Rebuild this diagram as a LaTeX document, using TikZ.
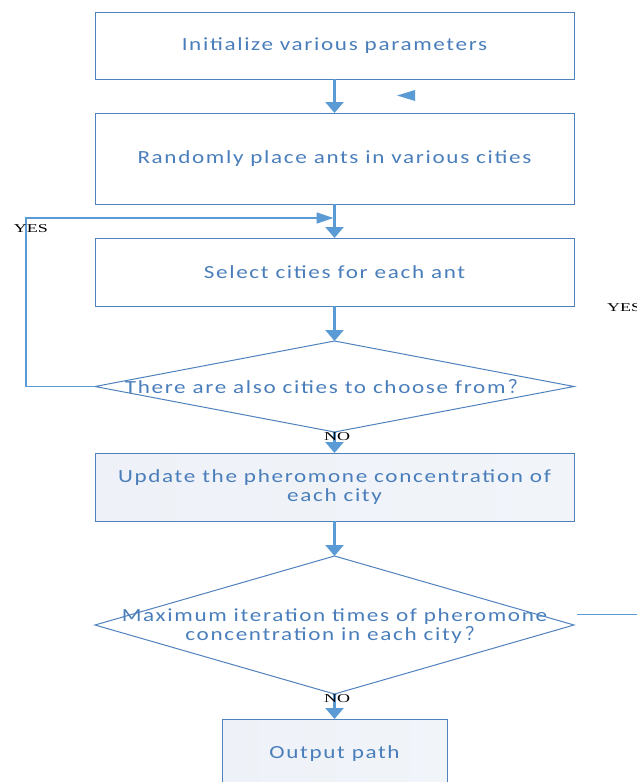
\documentclass[tikz,border=0pt]{standalone}
\usepackage{fontspec}
\usetikzlibrary{arrows.meta,shapes.geometric,calc}
\newfontfamily\boxfont[FakeStretch=1.25,LetterSpace=9]{Carlito}
\newfontfamily\ynfont[FakeStretch=1.5]{Liberation Serif}
\newfontfamily\cjkfont{Noto Sans CJK SC}
\definecolor{arrowblue}{HTML}{5B9BD5}
\definecolor{edgeblue}{HTML}{4F81BD}
\definecolor{textblue}{HTML}{4A7EBB}
\definecolor{paleleft}{HTML}{EEF1F7}
\definecolor{paleright}{HTML}{F1F5FA}
\begin{document}
\begin{tikzpicture}[x=1pt,y=-1pt,
  procbox/.style={draw=edgeblue,line width=1pt,minimum width=479pt,inner sep=0pt,outer sep=0pt,
    text=textblue,font=\boxfont\fontsize{18.5}{20}\selectfont,align=center},
  fillbox/.style={procbox,left color=paleleft,middle color=white,right color=paleright},
  decision/.style={diamond,draw=edgeblue,line width=1pt,aspect=1,minimum width=479pt,inner sep=0pt,outer sep=0pt},
  dtext/.style={text=textblue,font=\boxfont\fontsize{18.5}{20}\selectfont,align=center,inner sep=0pt},
  flow/.style={draw=arrowblue,line width=2.5pt,-{Triangle[width=18pt,length=11pt]}},
  loopflow/.style={draw=arrowblue,line width=1.6pt,-{Triangle[width=11pt,length=17pt]}},
  yn/.style={font=\ynfont\fontsize{12}{12}\selectfont,inner sep=0pt,text=black}]
\useasboundingbox (0,0) rectangle (637,782);

\node[procbox,minimum height=67pt] (b1) at (334.5,45.5) {Initialize various parameters};
\node[procbox,minimum height=91pt] (b2) at (334.5,158.5) {Randomly place ants in various cities};
\node[procbox,minimum height=68pt] (b3) at (334.5,272) {Select cities for each ant};
\node[decision,minimum height=91pt] (d1) at (334.5,386.5) {};
\node[dtext] (d1t) at (326,387) {There are also cities to choose from\,{\cjkfont ？}};
\node[fillbox,minimum height=68pt] (b4) at (334.5,487) {Update the pheromone concentration of\\[-1pt]each city};
\node[decision,minimum height=138pt] (d2) at (334.5,625) {};
\node[dtext] (d2t) at (334.5,626) {Maximum iteration times of pheromone\\[-1pt]concentration in each city\,{\cjkfont ？}};
\node[fillbox,minimum width=225pt,minimum height=70pt] (b5) at (334.5,754) {Output path};

\draw[flow] (b1) -- (b2);
\draw[flow] (b2) -- (b3);
\draw[flow] (b3) -- (d1);
\draw[flow] (d1) -- (b4);
\draw[flow] (b4) -- (d2);
\draw[flow] (d2) -- (b5);

\coordinate (lp1) at (26,386.5);
\coordinate (lp2) at (26,218);
\coordinate (lp3) at (333.5,218);
\draw[loopflow] (d1.west) -- (lp1) -- (lp2) -- (lp3);

\node[yn] (yes1) at (31,229) {YES};
\node[yn,anchor=west] (yes2) at (607,308) {YES};
\node[yn] (no1) at (337,437) {NO};
\node[yn] (no2) at (337,699) {NO};

\fill[arrowblue] (397,95.5) -- (415,90) -- (415,101) -- cycle;

\coordinate (s1) at (577,614);
\coordinate (s2) at (640,614);
\draw[arrowblue,line width=1pt] (s1) -- (s2);
\end{tikzpicture}
\end{document}
